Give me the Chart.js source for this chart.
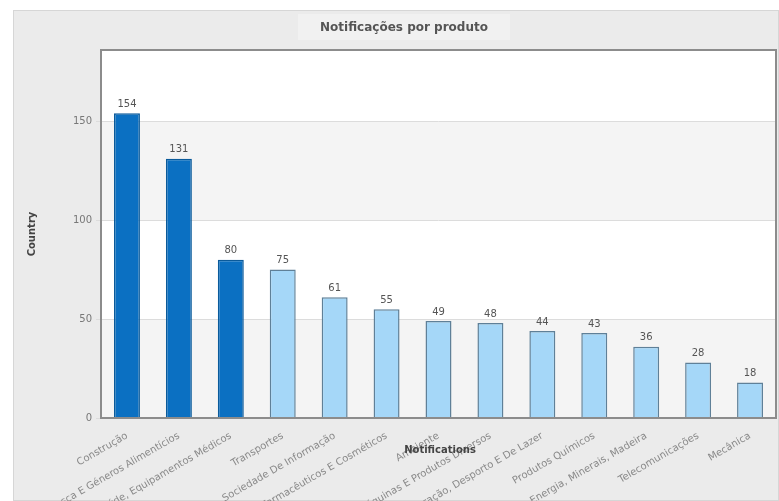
<!DOCTYPE html>
<html>
<head>
<meta charset="utf-8">
<script src="https://cdn.jsdelivr.net/npm/chart.js@4/dist/chart.umd.min.js"></script>
<style>
  html, body { margin: 0; padding: 0; background: #fff; }
  #wrap { width: 779px; height: 501px; }
</style>
</head>
<body>
<div id="wrap"><canvas id="chart" width="779" height="501"></canvas></div>
<script>
const categories = [
    'Construção',
    'Agricultura, Pesca E Géneros Alimentícios',
    'Saúde, Equipamentos Médicos',
    'Transportes',
    'Sociedade De Informação',
    'Farmacêuticos E Cosméticos',
    'Ambiente',
    'Máquinas E Produtos Diversos',
    'Artigos De Decoração, Desporto E De Lazer',
    'Produtos Químicos',
    'Energia, Minerais, Madeira',
    'Telecomunicações',
    'Mecânica'
];
const values = [154, 131, 80, 75, 61, 55, 49, 48, 44, 43, 36, 28, 18];
const yTicks = [0, 50, 100, 150];
const highlighted = [true, true, true, false, false, false, false, false, false, false, false, false, false];

const darkBlue = '#0b70c2';
const lightBlue = '#a5d7f8';

// panel, title, plot bands and border
const decor = {
    id: 'decor',
    beforeDraw(chart) {
        const c = chart.ctx;
        const a = chart.chartArea;
        const y = chart.scales.y;
        c.save();
        c.fillStyle = '#ffffff';
        c.fillRect(0, 0, chart.width, chart.height);
        c.fillStyle = '#ebebeb';
        c.fillRect(13, 10, chart.width - 13, chart.height - 10);
        c.strokeStyle = '#d6d6d6';
        c.strokeRect(13.5, 10.5, chart.width - 14, chart.height - 11);
        // title box
        c.fillStyle = '#f1f1f1';
        c.fillRect(298, 14, 212, 26);
        c.font = 'bold 12px "DejaVu Sans"';
        c.fillStyle = '#555';
        c.textAlign = 'center';
        c.textBaseline = 'middle';
        c.fillText('Notificações por produto', 404, 28);
        // plot background with bands
        c.fillStyle = '#ffffff';
        c.fillRect(a.left, a.top, a.right - a.left, a.bottom - a.top);
        c.fillStyle = '#f4f4f4';
        [[0, 50], [100, 150]].forEach(function (b) {
            const y1 = y.getPixelForValue(b[1]);
            const y0 = y.getPixelForValue(b[0]);
            c.fillRect(a.left, y1, a.right - a.left, y0 - y1);
        });
        c.restore();
    },
    afterDraw(chart) {
        const c = chart.ctx;
        const a = chart.chartArea;
        c.save();
        c.strokeStyle = '#8c8c8c';
        c.lineWidth = 2;
        c.strokeRect(a.left, a.top, a.right - a.left, a.bottom - a.top);
        c.font = 'bold 10px "DejaVu Sans"';
        c.fillStyle = '#444';
        c.textAlign = 'center';
        c.textBaseline = 'middle';
        c.fillText('Notifications', 440, 450);
        c.restore();
    },
    afterDatasetsDraw(chart) {
        const c = chart.ctx;
        const meta = chart.getDatasetMeta(0);
        c.save();
        c.font = '10px "DejaVu Sans"';
        c.fillStyle = '#555';
        c.textAlign = 'center';
        c.textBaseline = 'bottom';
        meta.data.forEach(function (bar, i) {
            c.fillText(String(values[i]), bar.x, bar.y - 4);
        });
        c.restore();
    }
};

new Chart(document.getElementById('chart'), {
    type: 'bar',
    data: {
        labels: categories,
        datasets: [{
            data: values,
            backgroundColor: highlighted.map(h => h ? darkBlue : lightBlue),
            borderColor: highlighted.map(h => h ? '#0a5a9a' : '#5f8098'),
            borderWidth: 1.5,
            barPercentage: 0.5,
            categoryPercentage: 1
        }]
    },
    options: {
        responsive: false,
        animation: false,
        layout: { padding: { top: 50, right: 3, left: 0, bottom: 0 } },
        plugins: {
            legend: { display: false },
            tooltip: { enabled: false }
        },
        scales: {
            x: {
                grid: { display: false },
                border: { display: false },
                ticks: {
                    minRotation: 30,
                    maxRotation: 30,
                    autoSkip: false,
                    font: { family: 'DejaVu Sans', size: 10 },
                    color: '#8a8a8a',
                    padding: 4
                },
                afterFit(scale) { scale.height = 83; }
            },
            y: {
                min: 0,
                max: 186,
                afterBuildTicks(scale) {
                    scale.ticks = yTicks.map(v => ({ value: v }));
                },
                grid: {
                    color: ctx => ctx.tick && ctx.tick.value === 0 ? 'rgba(0,0,0,0)' : '#dcdcdc',
                    tickLength: 5,
                    tickColor: '#dcdcdc'
                },
                border: { display: false },
                ticks: {
                    font: { family: 'DejaVu Sans', size: 10 },
                    color: '#777',
                    padding: 4
                },
                title: {
                    display: true,
                    text: 'Country',
                    font: { family: 'DejaVu Sans', size: 10, weight: 'bold' },
                    color: '#444',
                    padding: { top: 26, bottom: 0 }
                },
                afterFit(scale) { scale.width = 101; }
            }
        }
    },
    plugins: [decor]
});
</script>
</body>
</html>
